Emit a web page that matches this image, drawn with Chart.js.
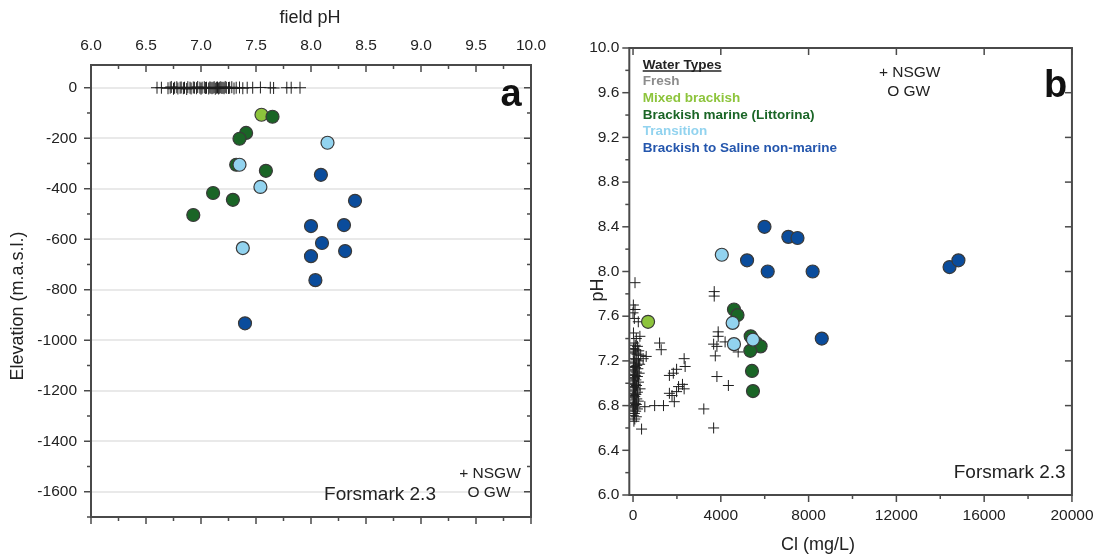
<!DOCTYPE html>
<html>
<head>
<meta charset="utf-8">
<title>Forsmark 2.3 – pH of groundwaters</title>
<script src="https://cdn.jsdelivr.net/npm/chart.js@4.4.1/dist/chart.umd.min.js"></script>
<style>
  html, body { margin: 0; padding: 0; background: #fff; }
  #wrap { position: relative; width: 1105px; height: 556px; overflow: hidden; }
  .panel { position: absolute; top: 0; height: 556px; }
  #pa { left: 0; width: 560px; }
  #pb { left: 560px; width: 545px; }
  canvas { display: block; }
</style>
</head>
<body>
<div id="wrap">
  <div class="panel" id="pa"><canvas id="ca" width="560" height="556"></canvas></div>
  <div class="panel" id="pb"><canvas id="cb" width="545" height="556"></canvas></div>
</div>
<script>
// ---------- Panel a: field pH versus elevation ----------
const fieldPhTicks = [6.0, 6.5, 7.0, 7.5, 8.0, 8.5, 9.0, 9.5, 10.0];
const elevationTicks = [0, -200, -400, -600, -800, -1000, -1200, -1400, -1600];

// near-surface groundwaters (NSGW)
const nsgwFieldPh = [6.60, 6.64, 6.70, 6.72, 6.73, 6.75, 6.76, 6.78, 6.79, 6.81,
                     6.82, 6.84, 6.85, 6.87, 6.88, 6.90, 6.91, 6.93, 6.94, 6.96,
                     6.97, 6.99, 7.00, 7.01, 7.03, 7.04, 7.05, 7.07, 7.08, 7.09,
                     7.10, 7.11, 7.12, 7.13, 7.14, 7.15, 7.16, 7.17, 7.18, 7.19,
                     7.20, 7.21, 7.22, 7.23, 7.25, 7.26, 7.28, 7.30, 7.32, 7.35,
                     7.38, 7.42, 7.47, 7.54, 7.63, 7.66, 7.78, 7.82, 7.90];
const nsgwElevation = [0, 0, -2, 0, 3, -4, 0, 2, -3, 0,
                       1, -2, 0, -5, 2, 0, -3, 1, 0, -2,
                       3, 0, -4, 0, 2, -1, 0, -3, 1, 0,
                       -2, 0, 2, -4, 0, 1, -3, 0, 2, -1,
                       0, -2, 3, 0, -1, 0, 2, -3, 0, 1,
                       -2, 0, 0, 1, 0, -1, 0, 0, 0];

// groundwaters (GW) by water type
const mixedBrackishPh   = [7.55];
const mixedBrackishElev = [-107];
const littorinaPh   = [7.65, 7.41, 7.35, 7.32, 7.59, 7.11, 7.29, 6.93];
const littorinaElev = [-115, -179, -202, -305, -329, -417, -444, -504];
const transitionPh   = [8.15, 7.35, 7.54, 7.38];
const transitionElev = [-218, -305, -393, -635];
const salinePh   = [8.09, 8.40, 8.00, 8.30, 8.10, 8.00, 8.31, 8.04, 7.40];
const salineElev = [-345, -448, -548, -544, -615, -667, -647, -762, -933];

// ---------- Panel b: pH versus chloride ----------
const clTicks = [0, 4000, 8000, 12000, 16000, 20000];
const phTicks = [6.0, 6.4, 6.8, 7.2, 7.6, 8.0, 8.4, 8.8, 9.2, 9.6, 10.0];

const nsgwCl = [90, 15, 90, 0, 240, 60, 313, 20, 150, 40,
                100, 200, 30, 120, 260, 10, 80, 180, 350, 600,
                460, 50, 140, 250, 20, 90, 300, 170, 40, 110,
                220, 5, 60, 150, 280, 30, 100, 200, 10, 70,
                130, 40, 250, 0, 90, 160, 20, 60, 320, 110,
                10, 200, 50, 130, 30, 80, 10, 170, 60, 240,
                20, 100, 150, 40, 0, 537, 90, 200, 30, 120,
                60, 10, 150, 80, 40, 389,
                1209, 1284, 2329, 2374, 1985, 1836, 1657, 2253, 2329, 2074,
                1985, 1657, 1881, 1777, 985, 1388, 3225, 3673,
                3700, 3700, 3880, 3880, 3673, 3822, 4195, 3748, 4791, 3822, 4345];
const nsgwPh = [7.90, 7.70, 7.66, 7.63, 7.55, 7.58, 7.42, 7.45, 7.40, 7.36,
                7.34, 7.33, 7.31, 7.30, 7.29, 7.28, 7.27, 7.26, 7.25, 7.24,
                7.22, 7.22, 7.21, 7.20, 7.19, 7.18, 7.17, 7.16, 7.15, 7.14,
                7.13, 7.12, 7.11, 7.10, 7.09, 7.08, 7.07, 7.06, 7.05, 7.04,
                7.03, 7.02, 7.01, 7.00, 6.99, 6.98, 6.97, 6.96, 6.95, 6.94,
                6.93, 6.92, 6.91, 6.90, 6.89, 6.88, 6.87, 6.86, 6.85, 6.84,
                6.83, 6.82, 6.81, 6.80, 6.79, 6.79, 6.78, 6.77, 6.76, 6.75,
                6.73, 6.71, 6.70, 6.68, 6.66, 6.59,
                7.36, 7.30, 7.22, 7.15, 7.125, 7.09, 7.07, 6.99, 6.95, 6.97,
                6.925, 6.91, 6.835, 6.89, 6.80, 6.80, 6.77, 6.60,
                7.82, 7.78, 7.46, 7.42, 7.35, 7.33, 7.37, 7.245, 7.28, 7.06, 6.98];

const mixedBrackishCl   = [685];
const mixedBrackishPhB  = [7.55];
const littorinaCl  = [4600, 4761, 5361, 5615, 5812, 5344, 5420, 5465];
const littorinaPhB = [7.66, 7.61, 7.42, 7.36, 7.33, 7.29, 7.11, 6.93];
const transitionCl  = [4045, 4538, 5465, 4600];
const transitionPhB = [8.15, 7.54, 7.39, 7.35];
const salineCl  = [5990, 7077, 7494, 5196, 6137, 8184, 14423, 14827, 8600];
const salinePhB = [8.40, 8.31, 8.30, 8.10, 8.00, 8.00, 8.04, 8.10, 7.40];

// ---------- styling ----------
const FONT = "'Liberation Sans', Arial, Helvetica, sans-serif";
Chart.defaults.font.family = FONT;
Chart.defaults.color = '#222';
Chart.defaults.animation = false;

const COLORS = {
  fresh: '#8c8c8c',
  mixed: '#8dc43c',
  littorina: '#1a6526',
  transition: '#92d3ef',
  saline: '#0a4c9c',
  salineText: '#2456ad'
};

const zip = (xs, ys) => xs.map((x, i) => ({ x: x, y: ys[i] }));
const midpoints = arr => arr.slice(1).map((v, i) => (v + arr[i]) / 2);

function gwSet(label, color, xs, ys) {
  return {
    label: label, data: zip(xs, ys), pointStyle: 'circle',
    pointRadius: 6.5, pointBackgroundColor: color,
    pointBorderColor: '#3a3a3a', pointBorderWidth: 1.2, showLine: false
  };
}
function nsgwSet(xs, ys, r) {
  return {
    label: 'NSGW', data: zip(xs, ys), pointStyle: 'cross',
    pointRadius: r, pointBorderColor: '#1e1e1e', pointBorderWidth: 1,
    showLine: false
  };
}

// Box around the plot area with major/minor tick marks on each side
const framePlugin = {
  id: 'frame',
  afterDatasetsDraw(chart, args, opts) {
    const ctx = chart.ctx, a = chart.chartArea;
    ctx.save();
    ctx.strokeStyle = opts.color;
    (opts.sides || []).forEach(side => {
      const sc = chart.scales[side.scale];
      const s = side.inward ? 1 : -1;
      const mark = (v, len) => {
        const p = sc.getPixelForValue(v);
        ctx.beginPath();
        if (side.edge === 'top')        { ctx.moveTo(p, a.top);    ctx.lineTo(p, a.top + s * len); }
        else if (side.edge === 'bottom'){ ctx.moveTo(p, a.bottom); ctx.lineTo(p, a.bottom - s * len); }
        else if (side.edge === 'left')  { ctx.moveTo(a.left, p);  ctx.lineTo(a.left + s * len, p); }
        else                            { ctx.moveTo(a.right, p); ctx.lineTo(a.right - s * len, p); }
        ctx.stroke();
      };
      ctx.lineWidth = opts.tickWidth;
      side.major.forEach(v => mark(v, opts.majorLen));
      (side.minor || []).forEach(v => mark(v, opts.minorLen));
    });
    ctx.lineWidth = opts.lineWidth;
    ctx.strokeRect(a.left, a.top, a.right - a.left, a.bottom - a.top);
    ctx.restore();
  }
};

// Free text placed on the canvas (axis titles, panel letters, legends, site name)
const notesPlugin = {
  id: 'notes',
  afterDraw(chart, args, opts) {
    const ctx = chart.ctx;
    (opts.items || []).forEach(n => {
      ctx.save();
      ctx.font = n.font;
      ctx.fillStyle = n.color || '#222';
      ctx.textAlign = n.align || 'left';
      ctx.textBaseline = n.baseline || 'middle';
      ctx.translate(n.x, n.y);
      if (n.rotate) ctx.rotate(n.rotate);
      ctx.fillText(n.text, 0, 0);
      if (n.underline) {
        const w = ctx.measureText(n.text).width;
        ctx.strokeStyle = n.color || '#222';
        ctx.lineWidth = 1.3;
        ctx.beginPath();
        ctx.moveTo(0, n.underline);
        ctx.lineTo(w, n.underline);
        ctx.stroke();
      }
      ctx.restore();
    });
  }
};

const tickFont = { size: 15.5 };
const titleFontCss = "18px " + FONT;
const fixedTicks = values => scale => { scale.ticks = values.map(v => ({ value: v })); };
const hidden = { display: false, drawTicks: false };

// ---------- chart a ----------
const minorPh = midpoints(fieldPhTicks);
const minorElev = midpoints(elevationTicks).concat([-1700]);

new Chart(document.getElementById('ca'), {
  type: 'scatter',
  data: {
    datasets: [
      gwSet('Brackish to Saline non-marine', COLORS.saline, salinePh, salineElev),
      gwSet('Transition', COLORS.transition, transitionPh, transitionElev),
      gwSet('Brackish marine (Littorina)', COLORS.littorina, littorinaPh, littorinaElev),
      gwSet('Mixed brackish', COLORS.mixed, mixedBrackishPh, mixedBrackishElev),
      nsgwSet(nsgwFieldPh, nsgwElevation, 6)
    ]
  },
  options: {
    responsive: false,
    events: [],
    layout: { padding: 0 },
    plugins: {
      legend: { display: false },
      tooltip: { enabled: false },
      frame: {
        color: '#4a4a4a', lineWidth: 2, tickWidth: 1.5, majorLen: 7, minorLen: 4,
        sides: [
          { scale: 'x',  edge: 'top',    inward: true,  major: fieldPhTicks, minor: minorPh },
          { scale: 'x2', edge: 'bottom', inward: false, major: fieldPhTicks, minor: minorPh },
          { scale: 'y',  edge: 'left',   inward: false, major: elevationTicks, minor: minorElev },
          { scale: 'y2', edge: 'right',  inward: true,  major: elevationTicks, minor: minorElev }
        ]
      },
      notes: {
        items: [
          { text: 'field pH', x: 310, y: 18, font: titleFontCss, align: 'center' },
          { text: 'Elevation (m.a.s.l.)', x: 18, y: 306, font: titleFontCss, align: 'center', rotate: -Math.PI / 2 },
          { text: 'a', x: 511, y: 106, font: "bold 38px " + FONT, color: '#111', align: 'center', baseline: 'alphabetic' },
          { text: 'Forsmark 2.3', x: 380, y: 495, font: "19px " + FONT, align: 'center' },
          { text: '+ NSGW', x: 490, y: 474, font: "15.5px " + FONT, align: 'center' },
          { text: 'O GW', x: 489, y: 493, font: "15.5px " + FONT, align: 'center' }
        ]
      }
    },
    scales: {
      x: {
        type: 'linear', position: 'top', min: 6, max: 10,
        afterBuildTicks: fixedTicks(fieldPhTicks),
        afterFit: s => { s.height = 65; },
        ticks: { callback: v => v.toFixed(1), padding: 10, font: tickFont, color: '#222', maxRotation: 0, autoSkip: false },
        grid: hidden, border: { display: false }
      },
      x2: {
        type: 'linear', position: 'bottom', min: 6, max: 10,
        afterBuildTicks: fixedTicks(fieldPhTicks),
        afterFit: s => { s.height = 39; },
        ticks: { display: false }, grid: hidden, border: { display: false }
      },
      y: {
        type: 'linear', position: 'left', min: -1700, max: 90,
        afterBuildTicks: fixedTicks(elevationTicks),
        afterFit: s => { s.width = 91; },
        ticks: { callback: v => String(v), padding: 14, font: tickFont, color: '#222', autoSkip: false },
        grid: { display: true, drawTicks: false, color: '#e9e9e9', lineWidth: 2 },
        border: { display: false }
      },
      y2: {
        type: 'linear', position: 'right', min: -1700, max: 90,
        afterBuildTicks: fixedTicks(elevationTicks),
        afterFit: s => { s.width = 29; },
        ticks: { display: false }, grid: hidden, border: { display: false }
      }
    }
  },
  plugins: [framePlugin, notesPlugin]
});

// ---------- chart b ----------
const legendFont = "bold 13.5px " + FONT;
new Chart(document.getElementById('cb'), {
  type: 'scatter',
  data: {
    datasets: [
      gwSet('Brackish to Saline non-marine', COLORS.saline, salineCl, salinePhB),
      gwSet('Transition', COLORS.transition, transitionCl, transitionPhB),
      gwSet('Brackish marine (Littorina)', COLORS.littorina, littorinaCl, littorinaPhB),
      gwSet('Mixed brackish', COLORS.mixed, mixedBrackishCl, mixedBrackishPhB),
      nsgwSet(nsgwCl, nsgwPh, 5.5)
    ]
  },
  options: {
    responsive: false,
    events: [],
    layout: { padding: 0 },
    plugins: {
      legend: { display: false },
      tooltip: { enabled: false },
      frame: {
        color: '#4a4a4a', lineWidth: 2, tickWidth: 1.5, majorLen: 7, minorLen: 4,
        sides: [
          { scale: 'x2', edge: 'top',    inward: true,  major: clTicks },
          { scale: 'x',  edge: 'bottom', inward: false, major: clTicks, minor: midpoints(clTicks) },
          { scale: 'y',  edge: 'left',   inward: false, major: phTicks, minor: midpoints(phTicks) },
          { scale: 'y2', edge: 'right',  inward: true,  major: phTicks }
        ]
      },
      notes: {
        items: [
          { text: 'pH', x: 38, y: 290, font: titleFontCss, align: 'center', rotate: -Math.PI / 2 },
          { text: 'Cl (mg/L)', x: 258, y: 545, font: titleFontCss, align: 'center' },
          { text: 'Water Types', x: 82.7, y: 65, font: legendFont, color: '#222', underline: 6 },
          { text: 'Fresh', x: 82.7, y: 81.7, font: legendFont, color: COLORS.fresh },
          { text: 'Mixed brackish', x: 82.7, y: 98.3, font: legendFont, color: COLORS.mixed },
          { text: 'Brackish marine (Littorina)', x: 82.7, y: 115, font: legendFont, color: COLORS.littorina },
          { text: 'Transition', x: 82.7, y: 131.7, font: legendFont, color: COLORS.transition },
          { text: 'Brackish to Saline non-marine', x: 82.7, y: 148.3, font: legendFont, color: COLORS.salineText },
          { text: '+ NSGW', x: 349.7, y: 72.3, font: "15.5px " + FONT, align: 'center' },
          { text: 'O GW', x: 348.7, y: 91.7, font: "15.5px " + FONT, align: 'center' },
          { text: 'b', x: 495.5, y: 97, font: "bold 38px " + FONT, color: '#111', align: 'center', baseline: 'alphabetic' },
          { text: 'Forsmark 2.3', x: 449.7, y: 472.7, font: "19px " + FONT, align: 'center' }
        ]
      }
    },
    scales: {
      x: {
        type: 'linear', position: 'bottom', min: -170, max: 20000,
        afterBuildTicks: fixedTicks(clTicks),
        afterFit: s => { s.height = 61; },
        ticks: { callback: v => String(v), padding: 11.5, font: tickFont, color: '#222', maxRotation: 0, autoSkip: false },
        grid: hidden, border: { display: false }
      },
      x2: {
        type: 'linear', position: 'top', min: -170, max: 20000,
        afterBuildTicks: fixedTicks(clTicks),
        afterFit: s => { s.height = 48; },
        ticks: { display: false }, grid: hidden, border: { display: false }
      },
      y: {
        type: 'linear', position: 'left', min: 6, max: 10,
        afterBuildTicks: fixedTicks(phTicks),
        afterFit: s => { s.width = 69.3; },
        ticks: { callback: v => v.toFixed(1), padding: 10, font: tickFont, color: '#222', autoSkip: false },
        grid: hidden, border: { display: false }
      },
      y2: {
        type: 'linear', position: 'right', min: 6, max: 10,
        afterBuildTicks: fixedTicks(phTicks),
        afterFit: s => { s.width = 24; },
        ticks: { display: false }, grid: hidden, border: { display: false }
      }
    }
  },
  plugins: [framePlugin, notesPlugin]
});
</script>
</body>
</html>
